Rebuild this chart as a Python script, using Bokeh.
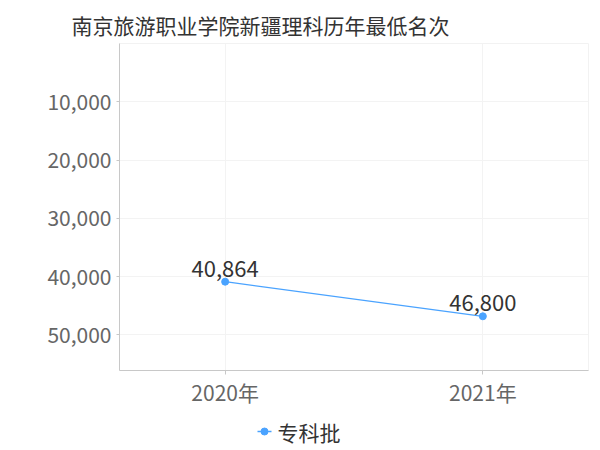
import numpy as np
from bokeh.plotting import figure
from bokeh.layouts import column
from bokeh.models import (Range1d, FixedTicker, NumeralTickFormatter,
                          ColumnDataSource)
from bokeh.core.properties import value
from bokeh.embed import file_html
from bokeh.resources import INLINE

# data
years = ["2020年", "2021年"]
ranks = [40864, 46800]
rank_labels = ["40,864", "46,800"]
y_ticks = [10000, 20000, 30000, 40000, 50000]
series_name = "专科批"
title_text = "南京旅游职业学院新疆理科历年最低名次"

FONT = "Noto Sans CJK SC"
BLUE = "#4aa3ff"

xs = list(range(len(years)))
src = ColumnDataSource(dict(x=xs, y=ranks, lab=rank_labels))

p = figure(width=592, height=414, output_backend="svg", toolbar_location=None,
           x_range=Range1d(-0.41, 1.41), y_range=Range1d(56100, 0),
           min_border_left=119, min_border_right=4, min_border_top=43,
           min_border_bottom=44, title=title_text)

p.title.text_font = FONT
p.title.text_font_size = "21px"
p.title.text_font_style = "normal"
p.title.text_color = "#333333"
p.title.align = "left"
p.title.vertical_align = "top"
p.title.offset = -48
p.title.standoff = 4

p.outline_line_color = "#f2f2f2"
p.background_fill_color = "white"
p.border_fill_color = "white"

# axes
p.xaxis.ticker = FixedTicker(ticks=xs)
p.xaxis.major_label_overrides = {i: t for i, t in enumerate(years)}
p.yaxis.ticker = FixedTicker(ticks=y_ticks)
p.yaxis.formatter = NumeralTickFormatter(format="0,0")
for ax in (p.xaxis[0], p.yaxis[0]):
    ax.axis_line_color = "#c8c8c8"
    ax.major_tick_line_color = "#c8c8c8"
    ax.major_tick_out = 4
    ax.major_tick_in = 0
    ax.minor_tick_line_color = None
    ax.major_label_text_font = FONT
    ax.major_label_text_font_size = "21px"
    ax.major_label_text_color = "#666666"
p.xaxis.major_label_standoff = 2
p.yaxis.major_label_standoff = 5
p.yaxis.major_tick_out = 3

p.xgrid.ticker = FixedTicker(ticks=xs)
p.ygrid.ticker = FixedTicker(ticks=y_ticks)
p.grid.grid_line_color = "#f3f3f3"

p.line("x", "y", source=src, line_color=BLUE, line_width=1.2)
p.scatter("x", "y", source=src, size=7, fill_color=BLUE, line_color=BLUE)
p.text("x", "y", text="lab", source=src, text_align="center",
       text_baseline="bottom", y_offset=-5, text_font_size="22px",
       text_color="#333333", text_font=value(FONT))

# legend strip under the chart, drawn by hand; its frame spans the same
# pixels as the chart frame so one data unit is one screen pixel
lg = figure(width=592, height=34, output_backend="svg", toolbar_location=None,
            x_range=Range1d(119, 588), y_range=Range1d(0, 34),
            x_axis_location=None, y_axis_location=None,
            min_border_left=119, min_border_right=4, min_border_top=0,
            min_border_bottom=0, outline_line_color=None)
lg.grid.visible = False
lg.segment(x0=[257], y0=[17], x1=[271], y1=[17], line_color=BLUE, line_width=1.5)
lg.scatter(x=[264], y=[17], size=7, fill_color=BLUE, line_color=BLUE)
lg.text(x=[277], y=[17], text=[series_name], text_baseline="middle",
        text_font_size="21px", text_color="#333333", text_font=value(FONT))

open("out.html", "w").write(file_html(column(p, lg), INLINE))
